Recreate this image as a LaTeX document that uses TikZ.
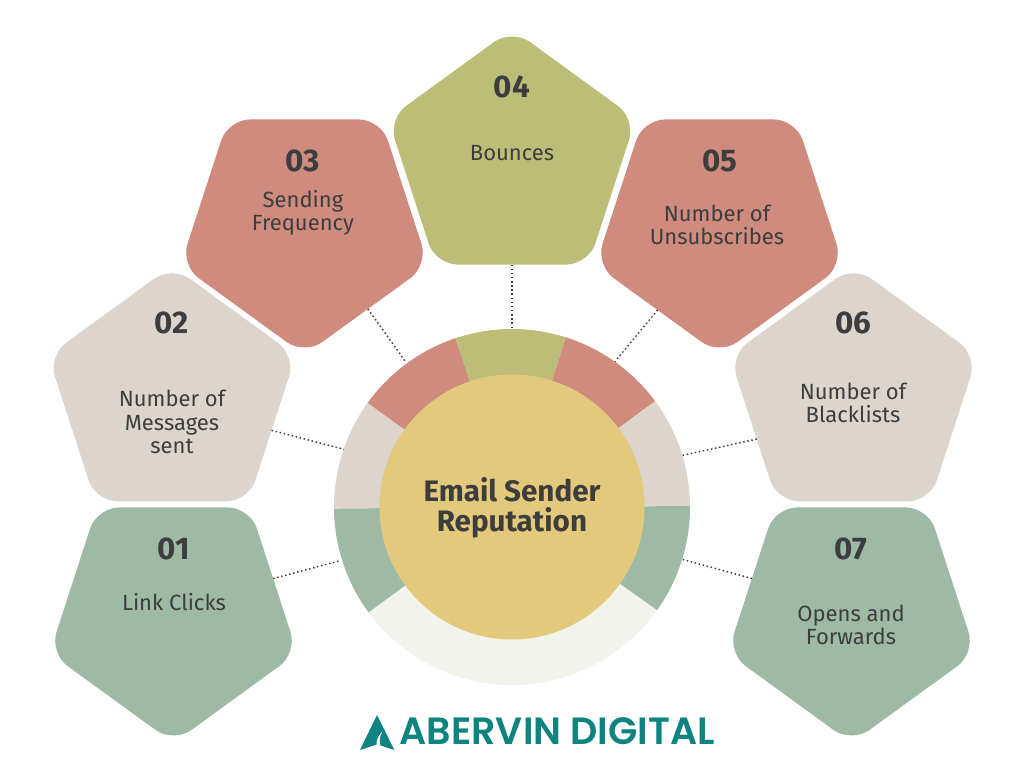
\documentclass[tikz,border=0pt]{standalone}
\usepackage{fontspec}
\usetikzlibrary{shapes.geometric}
\setmainfont{Fira Sans}
\newfontfamily\logofont{Poppins}[BoldFont=Poppins SemiBold]
\definecolor{cgreen}{HTML}{9FBAA4}
\definecolor{cbeige}{HTML}{DDD5CC}
\definecolor{csalmon}{HTML}{CE8B7E}
\definecolor{colive}{HTML}{BCBE78}
\definecolor{cyellow}{HTML}{E3C97B}
\definecolor{cpale}{HTML}{F2F3EC}
\definecolor{cink}{HTML}{3D3D3D}
\definecolor{cteal}{HTML}{0E8480}
\tikzset{
  pent/.style={regular polygon, regular polygon sides=5, minimum size=195.3pt, inner sep=0pt, outer sep=0pt, rounded corners=16.5pt, draw=none},
  pentdown/.style={pent, shape border rotate=180},
  numlabel/.style={text=cink, font=\fontsize{23.5pt}{26pt}\selectfont\bfseries, inner sep=0pt},
  bodylabel/.style={text=cink, align=center, font=\fontsize{16.5pt}{17.4pt}\selectfont, inner sep=0pt},
  link/.style={draw=cink, line width=1.1pt, dotted},
}
\newcommand{\ringseg}[3]{\fill[#1] (512,261) -- +(#2:178) arc[start angle=#2, end angle=#3, radius=178] -- cycle;}
\begin{document}
\begin{tikzpicture}[x=0.75pt,y=0.75pt]
\useasboundingbox (0,0) rectangle (1024,768);
\fill[white] (0,0) rectangle (1024,768);
% pentagons
\node[pentdown, fill=cgreen]  (p1) at (173.5,155.2) {};
\node[pent,     fill=cbeige]  (p2) at (172,372) {};
\node[pentdown, fill=csalmon] (p3) at (304.5,543.2) {};
\node[pent,     fill=colive]  (p4) at (512,608.8) {};
\node[pentdown, fill=csalmon] (p5) at (719.5,543.2) {};
\node[pent,     fill=cbeige]  (p6) at (853.5,372) {};
\node[pentdown, fill=cgreen]  (p7) at (851.5,155.2) {};
% ring
\ringseg{cpale}{216.3}{324.6}
\ringseg{cgreen}{180.5}{216.3}
\ringseg{cbeige}{144.2}{180.5}
\ringseg{csalmon}{108.5}{144.2}
\ringseg{colive}{72.4}{108.5}
\ringseg{csalmon}{36.5}{72.4}
\ringseg{cbeige}{0.3}{36.5}
\ringseg{cgreen}{-35.4}{0.3}
\node[circle, fill=cyellow, minimum size=198.75pt, inner sep=0pt, outer sep=0pt] (hub) at (512,261) {};
\node[text=cink, align=center, inner sep=0pt, font=\fontsize{22.2pt}{22.5pt}\selectfont\bfseries] (hubtext) at (512,260) {Email Sender\\Reputation};
% ring ends of connectors
\coordinate (r1) at (341,207.5);
\coordinate (r2) at (344,318.7);
\coordinate (r3) at (405,407);
\coordinate (r4) at (512,441);
\coordinate (r5) at (615,406.5);
\coordinate (r6) at (681,312.3);
\coordinate (r7) at (681,209);
\draw[link] (p1.19.3) -- (r1);
\draw[link] (p2.-19.3) -- (r2);
\draw[link] (p3.-53.3) -- (r3);
\draw[link] (p4.-90) -- (r4);
\draw[link] (p5.234.1) -- (r5);
\draw[link] (p6.204) -- (r6);
\draw[link] (p7.161.2) -- (r7);
% labels
\node[numlabel] (n1) at (174,219) {01};
\node[numlabel] (n2) at (172,445) {02};
\node[numlabel] (n3) at (303,607) {03};
\node[numlabel] (n4) at (512,681) {04};
\node[numlabel] (n5) at (720,607) {05};
\node[numlabel] (n6) at (853,445) {06};
\node[numlabel] (n7) at (851,219) {07};
\node[bodylabel] (t1) at (174,166) {Link Clicks};
\node[bodylabel] (t2) at (172,346) {Number of\\Messages\\sent};
\node[bodylabel] (t3) at (303,555.5) {Sending\\Frequency};
\node[bodylabel] (t4) at (512,615) {Bounces};
\node[bodylabel] (t5) at (717,543.5) {Number of\\Unsubscribes};
\node[bodylabel] (t6) at (853,365.5) {Number of\\Blacklists};
\node[bodylabel] (t7) at (851,143.5) {Opens and\\Forwards};
% logo
\fill[cteal] (377,53) -- (394.3,18) -- (380.5,22.5) .. controls (379,28) and (380,34) .. (384.5,39) .. controls (379,34) and (376,29) .. (376.5,23.5) -- (360,18) -- cycle;
\node[text=cteal, anchor=west, inner sep=0pt, font=\logofont\fontsize{28.5pt}{30pt}\selectfont\bfseries] (logo) at (399.5,36.5) {ABERVIN DIGITAL};
\end{tikzpicture}
\end{document}
